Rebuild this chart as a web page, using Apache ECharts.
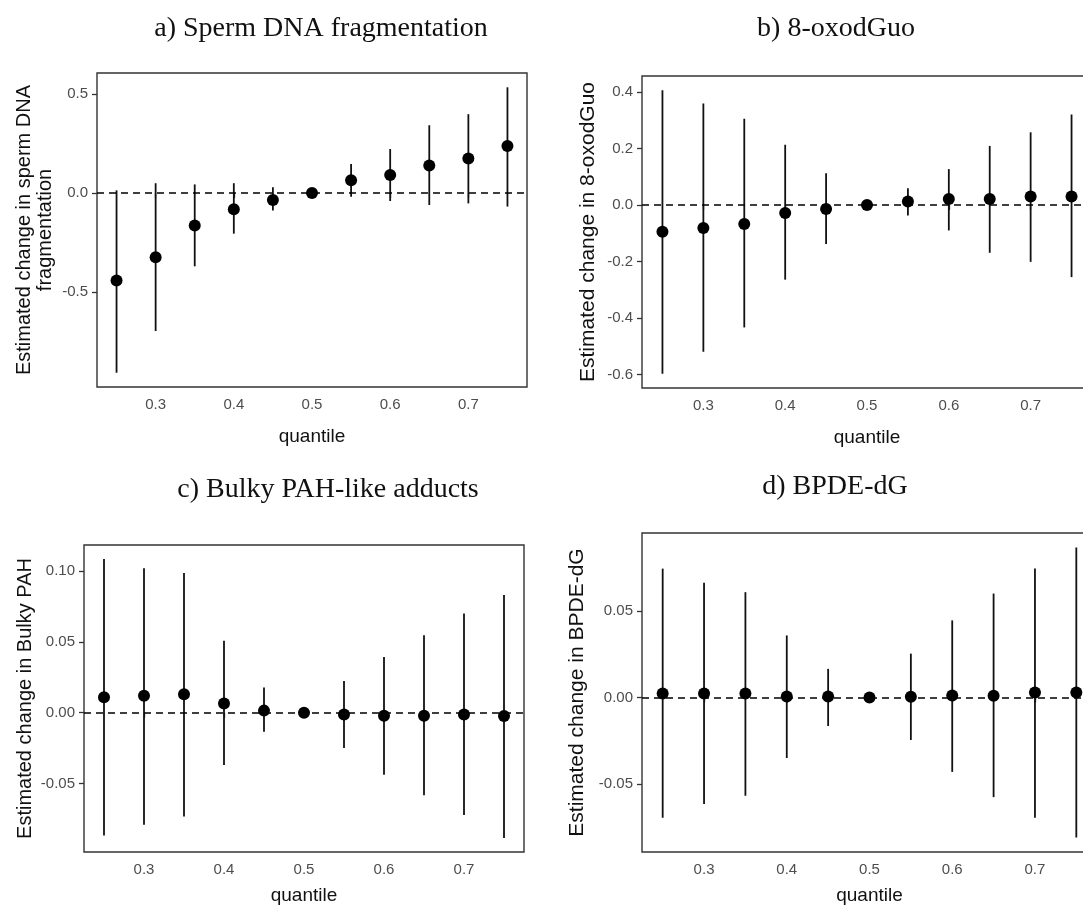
<!DOCTYPE html>
<html>
<head>
<meta charset="utf-8">
<script src="https://cdn.jsdelivr.net/npm/echarts@6/dist/echarts.min.js"></script>
<style>
  html, body { margin: 0; padding: 0; background: #fff; overflow: hidden; }
  #container { width: 1110px; height: 906px; }
</style>
</head>
<body>
<div id="container"></div>
<script>
// quantiles on the x axis
var quantiles = [0.25, 0.30, 0.35, 0.40, 0.45, 0.50, 0.55, 0.60, 0.65, 0.70, 0.75];
var xTicks = [0.3, 0.4, 0.5, 0.6, 0.7];

// a) Sperm DNA fragmentation
var dnaEst = [-0.442, -0.324, -0.164, -0.082, -0.035, 0.0, 0.065, 0.092, 0.140, 0.175, 0.238];
var dnaLow = [-0.908, -0.697, -0.370, -0.205, -0.088, 0.0, -0.018, -0.040, -0.060, -0.052, -0.068];
var dnaHigh = [0.014, 0.050, 0.044, 0.050, 0.029, 0.0, 0.147, 0.223, 0.343, 0.399, 0.535];
var dnaTicks = [-0.5, 0.0, 0.5];

// b) 8-oxodGuo
var oxoEst = [-0.095, -0.081, -0.067, -0.028, -0.014, 0.0, 0.012, 0.021, 0.021, 0.030, 0.030];
var oxoLow = [-0.597, -0.519, -0.433, -0.264, -0.138, 0.0, -0.037, -0.090, -0.169, -0.201, -0.255];
var oxoHigh = [0.406, 0.359, 0.305, 0.213, 0.112, 0.0, 0.059, 0.127, 0.209, 0.257, 0.320];
var oxoTicks = [-0.6, -0.4, -0.2, 0.0, 0.2, 0.4];

// c) Bulky PAH-like adducts
var pahEst = [0.0110, 0.0120, 0.0130, 0.0065, 0.0015, 0.0, -0.0012, -0.0022, -0.0022, -0.0012, -0.0023];
var pahLow = [-0.0866, -0.0790, -0.0732, -0.0369, -0.0134, 0.0, -0.0249, -0.0438, -0.0582, -0.0722, -0.0884];
var pahHigh = [0.1085, 0.1020, 0.0986, 0.0508, 0.0178, 0.0, 0.0224, 0.0393, 0.0547, 0.0700, 0.0831];
var pahTicks = [-0.05, 0.00, 0.05, 0.10];

// d) BPDE-dG
var bpdeEst = [0.0023, 0.0023, 0.0023, 0.0006, 0.0006, 0.0, 0.0004, 0.0011, 0.0010, 0.0028, 0.0028];
var bpdeLow = [-0.0695, -0.0616, -0.0568, -0.0350, -0.0165, 0.0, -0.0246, -0.0430, -0.0576, -0.0695, -0.0809];
var bpdeHigh = [0.0744, 0.0663, 0.0608, 0.0358, 0.0165, 0.0, 0.0253, 0.0445, 0.0600, 0.0744, 0.0866];
var bpdeTicks = [-0.05, 0.00, 0.05];

var panels = [
  { title: 'a) Sperm DNA fragmentation', titleX: 316, titleY: 10,
    yName: 'Estimated change in sperm DNA\nfragmentation', yGap: 41, yFont: 20, xGap: 40,
    grid: { left: 97, top: 73, width: 430, height: 314 },
    est: dnaEst, low: dnaLow, high: dnaHigh, ticks: dnaTicks, digits: 1 },
  { title: 'b) 8-oxodGuo', titleX: 831, titleY: 10,
    yName: 'Estimated change in 8-oxodGuo', yGap: 43, yFont: 21, xGap: 40,
    grid: { left: 642, top: 76, width: 450, height: 312 },
    est: oxoEst, low: oxoLow, high: oxoHigh, ticks: oxoTicks, digits: 1 },
  { title: 'c) Bulky PAH-like adducts', titleX: 323, titleY: 471,
    yName: 'Estimated change in Bulky PAH', yGap: 48, yFont: 20, xGap: 34,
    grid: { left: 84, top: 545, width: 440, height: 312 },
    est: pahEst, low: pahLow, high: pahHigh, ticks: pahTicks, digits: 2 },
  { title: 'd) BPDE-dG', titleX: 830, titleY: 468,
    yName: 'Estimated change in BPDE-dG', yGap: 54, yFont: 21, xGap: 34,
    grid: { left: 642, top: 533, width: 455, height: 322 },
    est: bpdeEst, low: bpdeLow, high: bpdeHigh, ticks: bpdeTicks, digits: 2 }
];

function padRange(low, high) {
  var mn = Math.min.apply(null, low), mx = Math.max.apply(null, high);
  var d = (mx - mn) * 0.05;
  return [mn - d, mx + d];
}

var option = {
  backgroundColor: '#fff',
  animation: false,
  title: [], grid: [], xAxis: [], yAxis: [], series: []
};

panels.forEach(function (p, i) {
  var r = padRange(p.low, p.high);
  option.title.push({
    text: p.title, left: p.titleX, top: p.titleY, textAlign: 'center',
    textStyle: { fontFamily: 'Liberation Serif', fontSize: 28, fontWeight: 'normal', color: '#111' }
  });
  option.grid.push({
    left: p.grid.left, top: p.grid.top, width: p.grid.width, height: p.grid.height,
    show: true, borderColor: '#333', borderWidth: 1.4, backgroundColor: 'transparent'
  });
  option.xAxis.push({
    type: 'value', gridIndex: i, min: 0.225, max: 0.775,
    name: 'quantile', nameLocation: 'middle', nameGap: p.xGap,
    nameTextStyle: { fontFamily: 'Liberation Sans', fontSize: 19, color: '#111' },
    axisLine: { show: false },
    axisTick: { show: true, customValues: xTicks, length: 5, lineStyle: { color: '#333', width: 1.3 } },
    axisLabel: { customValues: xTicks, margin: 10, fontFamily: 'Liberation Sans', fontSize: 15, color: '#4d4d4d',
      formatter: function (v) { return v.toFixed(1); } },
    splitLine: { show: false }
  });
  option.yAxis.push({
    type: 'value', gridIndex: i, min: r[0], max: r[1],
    name: p.yName, nameLocation: 'middle', nameGap: p.yGap,
    nameTextStyle: { fontFamily: 'Liberation Sans', fontSize: p.yFont, color: '#111', lineHeight: 21 },
    axisLine: { show: false },
    axisTick: { show: true, customValues: p.ticks, length: 5, lineStyle: { color: '#333', width: 1.3 } },
    axisLabel: { customValues: p.ticks, margin: 9, fontFamily: 'Liberation Sans', fontSize: 15, color: '#4d4d4d',
      formatter: function (v) { return v.toFixed(p.digits); } },
    splitLine: { show: false }
  });
  // error bars
  option.series.push({
    type: 'custom', xAxisIndex: i, yAxisIndex: i,
    data: quantiles.map(function (q, k) { return [q, p.low[k], p.high[k]]; }),
    encode: { x: 0, y: [1, 2] },
    renderItem: function (params, api) {
      var a = api.coord([api.value(0), api.value(1)]);
      var b = api.coord([api.value(0), api.value(2)]);
      return { type: 'line', shape: { x1: a[0], y1: a[1], x2: b[0], y2: b[1] },
        style: { stroke: '#111', lineWidth: 1.8 } };
    },
    z: 2
  });
  // point estimates + reference line at zero
  option.series.push({
    type: 'scatter', xAxisIndex: i, yAxisIndex: i,
    data: quantiles.map(function (q, k) { return [q, p.est[k]]; }),
    symbol: 'circle', symbolSize: 12,
    itemStyle: { color: '#000', opacity: 1 },
    markLine: {
      silent: true, symbol: 'none', label: { show: false },
      lineStyle: { color: '#000', type: [7, 5], width: 1.5 },
      data: [{ yAxis: 0 }]
    },
    z: 3
  });
});

var chart = echarts.init(document.getElementById('container'));
chart.setOption(option);
</script>
</body>
</html>
